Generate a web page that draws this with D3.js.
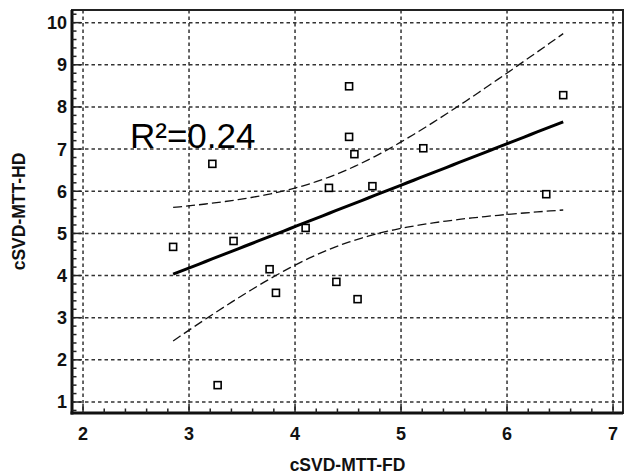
<!DOCTYPE html>
<html>
<head>
<meta charset="utf-8">
<script src="https://cdn.jsdelivr.net/npm/d3@7"></script>
<style>
  body { margin: 0; background: #fff; }
  svg { display: block; font-family: Arial, "Liberation Sans", sans-serif; }
</style>
</head>
<body>
<div id="chart"></div>
<script>
// values
const fdValues = [2.85, 3.22, 3.27, 3.42, 3.76, 3.82, 4.10, 4.32, 4.39, 4.51, 4.51, 4.56, 4.59, 4.73, 5.21, 6.37, 6.53];
const hdValues = [4.68, 6.65, 1.40, 4.82, 4.15, 3.59, 5.13, 6.08, 3.85, 8.49, 7.29, 6.88, 3.44, 6.12, 7.02, 5.93, 8.28];
const xTicks = [2, 3, 4, 5, 6, 7];
const yTicks = [1, 2, 3, 4, 5, 6, 7, 8, 9, 10];
const xTitle = "cSVD-MTT-FD";
const yTitle = "cSVD-MTT-HD";
const r2Label = "R²=0.24";
const tCrit = 2.131; // t(0.975, df=15)

const width = 626, height = 476;
const margin = { top: 10, right: 3, bottom: 63, left: 72 };

const svg = d3.select("#chart").append("svg")
  .attr("width", width)
  .attr("height", height);

const x = d3.scaleLinear().domain([1.896, 7.094]).range([margin.left, width - margin.right]);
const y = d3.scaleLinear().domain([0.739, 10.3]).range([height - margin.bottom, margin.top]);

const x0 = margin.left, x1 = width - margin.right;
const y0 = margin.top, y1 = height - margin.bottom;

// grid
const grid = svg.append("g")
  .attr("stroke", "#333")
  .attr("stroke-width", 1.5)
  .attr("stroke-dasharray", "3.5,3");

grid.selectAll("line.h")
  .data(yTicks)
  .join("line")
  .attr("class", "h")
  .attr("x1", x0).attr("x2", x1)
  .attr("y1", d => y(d)).attr("y2", d => y(d));

grid.selectAll("line.v")
  .data(xTicks)
  .join("line")
  .attr("class", "v")
  .attr("y1", y0).attr("y2", y1)
  .attr("x1", d => x(d)).attr("x2", d => x(d));

// linear fit + 95% confidence band of the mean
const n = fdValues.length;
const mx = d3.mean(fdValues), my = d3.mean(hdValues);
let sxx = 0, sxy = 0;
fdValues.forEach((v, i) => { sxx += (v - mx) ** 2; sxy += (v - mx) * (hdValues[i] - my); });
const slope = sxy / sxx;
const intercept = my - slope * mx;
let ssr = 0;
fdValues.forEach((v, i) => { ssr += (hdValues[i] - (intercept + slope * v)) ** 2; });
const se = Math.sqrt(ssr / (n - 2));

const [xmin, xmax] = d3.extent(fdValues);
const band = d3.range(0, 61).map(i => {
  const xv = xmin + (xmax - xmin) * i / 60;
  const fit = intercept + slope * xv;
  const h = tCrit * se * Math.sqrt(1 / n + (xv - mx) ** 2 / sxx);
  return { x: xv, fit, lo: fit - h, hi: fit + h };
});

const line = key => d3.line().x(d => x(d.x)).y(d => y(d[key]))(band);

svg.append("g")
  .attr("fill", "none")
  .attr("stroke", "#111")
  .attr("stroke-width", 1.3)
  .attr("stroke-dasharray", "9,4")
  .selectAll("path")
  .data(["hi", "lo"])
  .join("path")
  .attr("d", d => line(d));

svg.append("path")
  .attr("fill", "none")
  .attr("stroke", "#000")
  .attr("stroke-width", 3)
  .attr("d", line("fit"));

// points
svg.append("g")
  .selectAll("rect")
  .data(fdValues.map((v, i) => [v, hdValues[i]]))
  .join("rect")
  .attr("x", d => x(d[0]) - 3.5)
  .attr("y", d => y(d[1]) - 3.5)
  .attr("width", 7)
  .attr("height", 7)
  .attr("fill", "#fff")
  .attr("stroke", "#000")
  .attr("stroke-width", 1.6);

// frame
svg.append("rect")
  .attr("x", x0).attr("y", y0)
  .attr("width", x1 - x0).attr("height", y1 - y0)
  .attr("fill", "none")
  .attr("stroke", "#222")
  .attr("stroke-width", 2);
svg.append("line")
  .attr("x1", x0).attr("x2", x0).attr("y1", y0).attr("y2", y1 + 1.5)
  .attr("stroke", "#111").attr("stroke-width", 3);
svg.append("line")
  .attr("x1", x0 - 1.5).attr("x2", x1).attr("y1", y1).attr("y2", y1)
  .attr("stroke", "#111").attr("stroke-width", 3);

// ticks, pointing inward
const xMinor = d3.range(20, 71, 2).map(d => d / 10).filter(d => x(d) > x0 + 2 && x(d) < x1 - 2);
const yMinor = d3.range(8, 103, 2).map(d => d / 10).filter(d => y(d) > y0 + 2 && y(d) < y1 - 2);

svg.append("g")
  .attr("stroke", "#222")
  .attr("stroke-width", 1.5)
  .selectAll("line")
  .data(xMinor)
  .join("line")
  .attr("x1", d => x(d)).attr("x2", d => x(d))
  .attr("y1", y1).attr("y2", d => y1 - (Number.isInteger(Math.round(d * 10) / 10) ? 9 : 4.5));

svg.append("g")
  .attr("stroke", "#222")
  .attr("stroke-width", 1.5)
  .selectAll("line")
  .data(yMinor)
  .join("line")
  .attr("y1", d => y(d)).attr("y2", d => y(d))
  .attr("x1", x0).attr("x2", d => x0 + (Number.isInteger(Math.round(d * 10) / 10) ? 9 : 4.5));

// tick labels
svg.append("g")
  .attr("font-size", 18)
  .attr("font-weight", "bold")
  .attr("text-anchor", "middle")
  .attr("fill", "#111")
  .selectAll("text")
  .data(xTicks)
  .join("text")
  .attr("x", d => x(d))
  .attr("y", 440)
  .text(d => d);

svg.append("g")
  .attr("font-size", 18)
  .attr("font-weight", "bold")
  .attr("text-anchor", "end")
  .attr("fill", "#111")
  .selectAll("text")
  .data(yTicks)
  .join("text")
  .attr("x", 67)
  .attr("y", d => y(d))
  .attr("dy", "0.36em")
  .text(d => d);

// axis titles
svg.append("text")
  .attr("x", (x0 + x1) / 2)
  .attr("y", 471)
  .attr("text-anchor", "middle")
  .attr("font-size", 17.5)
  .attr("font-weight", "bold")
  .attr("fill", "#111")
  .text(xTitle);

svg.append("text")
  .attr("transform", `translate(24.5,${(y0 + y1) / 2}) rotate(-90)`)
  .attr("text-anchor", "middle")
  .attr("font-size", 17.5)
  .attr("font-weight", "bold")
  .attr("fill", "#111")
  .text(yTitle);

// R² annotation
svg.append("text")
  .attr("x", 130)
  .attr("y", 148)
  .attr("font-size", 35)
  .attr("fill", "#000")
  .text(r2Label);
</script>
</body>
</html>
